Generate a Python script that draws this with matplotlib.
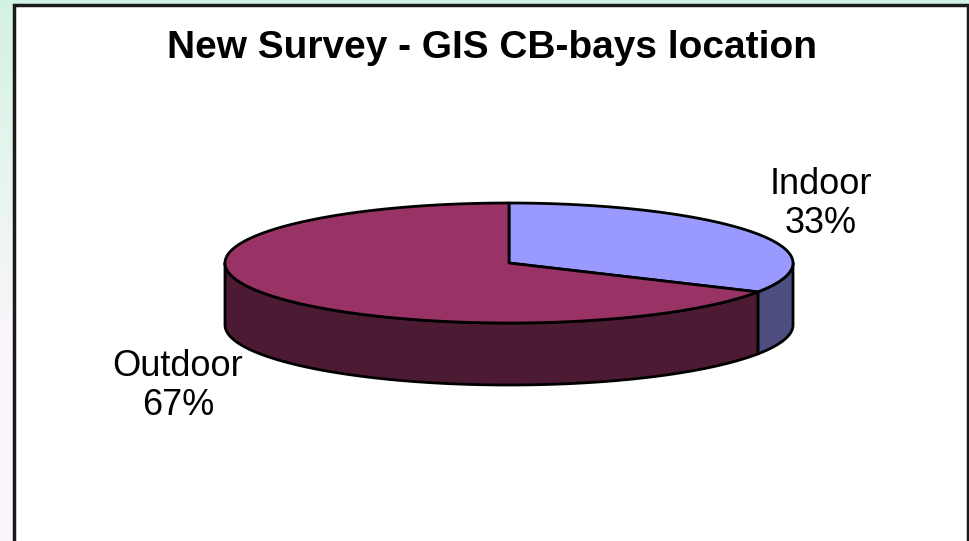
import numpy as np
import matplotlib.pyplot as plt
from matplotlib.patches import Polygon, Rectangle
from matplotlib.colors import LinearSegmentedColormap

plt.rcParams['font.family'] = ['Liberation Sans', 'DejaVu Sans']

title = "New Survey - GIS CB-bays location"
labels = ["Indoor", "Outdoor"]
values = [33, 67]
top_colors = ["#9999ff", "#993366"]
side_colors = ["#4d4d80", "#4d1a33"]

W, H = 970, 541
# pie geometry in pixel units (y grows downward)
cx, cy = 509, 263
rx, ry = 284, 60
depth = 62


def pt(t):
	return cx + rx * np.cos(t), cy - ry * np.sin(t)


def main():
	fig = plt.figure(figsize=(W / 100, H / 100), dpi=100)
	ax = fig.add_axes([0, 0, 1, 1])
	ax.set_xlim(0, W)
	ax.set_ylim(H, 0)
	ax.axis('off')

	# page background behind the chart frame
	cmap = LinearSegmentedColormap.from_list('bg', ['#d4f2e4', '#e8f5ee', '#fdf5fd', '#fdf5fd'])
	grad = np.linspace(0, 1, 256).reshape(-1, 1)
	ax.imshow(grad, cmap=cmap, extent=[0, W, H, 0], aspect='auto', zorder=0)

	ax.add_patch(Rectangle((14, 5), 954, H + 10, facecolor='white',
	                       edgecolor='#1a1a1a', lw=2.5, zorder=1))

	fracs = np.array(values, dtype=float) / sum(values)
	starts = np.pi / 2 - 2 * np.pi * np.concatenate([[0], np.cumsum(fracs)[:-1]])
	ends = starts - 2 * np.pi * fracs

	# side walls (only the front half of the rim is visible)
	for s, e, col in zip(starts, ends, side_colors):
		lo, hi = max(e, -np.pi), min(s, 0.0)
		if lo >= hi:
			continue
		t = np.linspace(hi, lo, 120)
		x, y = pt(t)
		xs = np.concatenate([x, x[::-1]])
		ys = np.concatenate([y, y[::-1] + depth])
		ax.add_patch(Polygon(np.column_stack([xs, ys]), closed=True, facecolor=col,
		                     edgecolor='black', lw=2, joinstyle='round', zorder=2))

	# top faces
	for s, e, col in zip(starts, ends, top_colors):
		t = np.linspace(s, e, 300)
		x, y = pt(t)
		xs = np.concatenate([[cx], x])
		ys = np.concatenate([[cy], y])
		ax.add_patch(Polygon(np.column_stack([xs, ys]), closed=True, facecolor=col,
		                     edgecolor='black', lw=2, joinstyle='round', zorder=3))

	# data labels
	label_pos = [(821, 204), (178, 386)]
	for lab, v, (lx, ly) in zip(labels, values, label_pos):
		ax.text(lx, ly, f"{lab}\n{v}%", ha='center', va='center', fontsize=26,
		        linespacing=1.15, color='black', zorder=4)

	ax.text(492, 48, title, ha='center', va='center', fontsize=28,
	        fontweight='bold', color='black', zorder=4)

	fig.savefig('out.png', dpi=100)


if __name__ == '__main__':
	main()
